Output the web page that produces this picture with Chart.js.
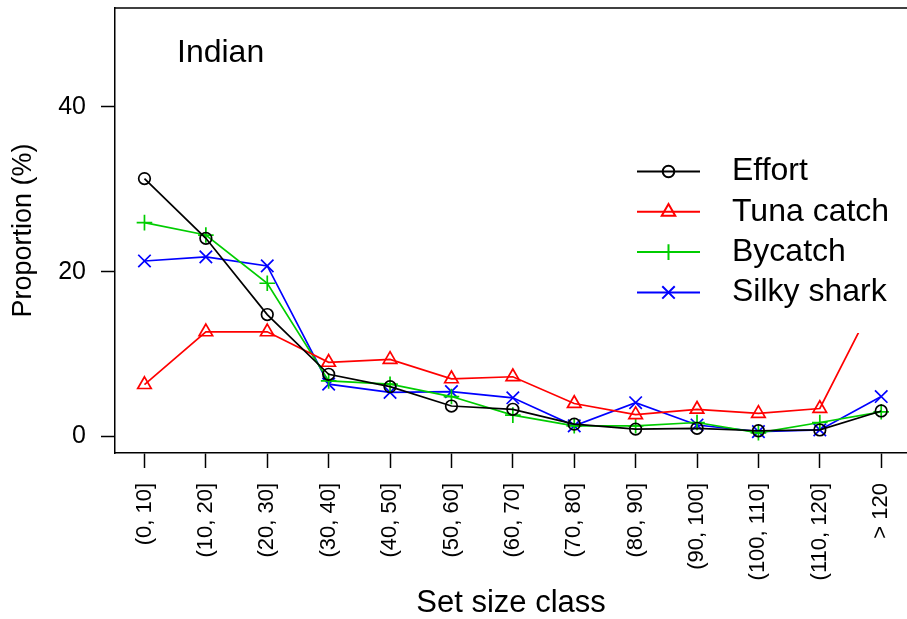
<!DOCTYPE html>
<html>
<head>
<meta charset="utf-8">
<script src="https://cdn.jsdelivr.net/npm/chart.js@4/dist/chart.umd.min.js"></script>
<style>
  html, body { margin: 0; padding: 0; background: #fff; overflow: hidden; }
  #wrap { width: 907px; height: 619px; position: relative; }
</style>
</head>
<body>
<div id="wrap"><canvas id="chart"></canvas></div>
<script>
  // size classes on the x axis
  var categories = ['(0, 10]', '(10, 20]', '(20, 30]', '(30, 40]', '(40, 50]', '(50, 60]',
    '(60, 70]', '(70, 80]', '(80, 90]', '(90, 100]', '(100, 110]', '(110, 120]', '> 120'];

  // proportions (%)
  var effort = [31.3, 24.05, 14.8, 7.55, 6.05, 3.7, 3.3, 1.5, 0.9, 1.0, 0.7, 0.8, 3.1];
  var tunaCatch = [6.3, 12.7, 12.7, 9.0, 9.35, 7.0, 7.25, 4.0, 2.65, 3.3, 2.8, 3.4, 18.0];
  var bycatch = [25.95, 24.45, 18.6, 6.75, 6.35, 4.85, 2.6, 1.3, 1.3, 1.7, 0.45, 1.7, 3.0];
  var silkyShark = [21.3, 21.8, 20.7, 6.35, 5.35, 5.45, 4.7, 1.3, 4.1, 1.4, 0.6, 0.8, 4.85];

  var yTicks = [0, 20, 40];
  var panelLabel = 'Indian';

  var FONT = "'Liberation Sans', Arial, Helvetica, sans-serif";

  function toPoints(values) {
    return values.map(function(v, i) { return {x: i, y: v}; });
  }

  function makeSet(label, values, color, style, radius) {
    return {
      label: label,
      data: toPoints(values),
      borderColor: color,
      backgroundColor: color,
      borderWidth: 1.7,
      pointStyle: style,
      pointRadius: radius,
      pointBorderColor: color,
      pointBackgroundColor: 'rgba(0,0,0,0)',
      pointBorderWidth: 1.7,
      tension: 0,
      fill: false
    };
  }

  // legend box (white background, like R's legend) and the panel label
  var overlayPlugin = {
    id: 'overlay',
    afterDatasetsDraw: function(chart) {
      var ctx = chart.ctx;
      var area = chart.chartArea;
      ctx.save();
      // top edge of the plot box
      ctx.strokeStyle = '#000';
      ctx.lineWidth = 1.5;
      ctx.beginPath();
      ctx.moveTo(area.left, area.top);
      ctx.lineTo(area.right, area.top);
      ctx.stroke();

      ctx.fillStyle = '#fff';
      ctx.fillRect(612, 131, area.right - 612, 333 - 131);

      var rowY = 171.5, step = 40.3;
      chart.data.datasets.forEach(function(ds, i) {
        var y = rowY + i * step;
        ctx.strokeStyle = ds.borderColor;
        ctx.lineWidth = 2;
        ctx.beginPath();
        ctx.moveTo(637, y);
        ctx.lineTo(700, y);
        ctx.stroke();
        ctx.fillStyle = 'rgba(0,0,0,0)';
        Chart.helpers.drawPoint(ctx, {
          pointStyle: ds.pointStyle,
          radius: ds.pointRadius,
          borderWidth: 2,
          rotation: 0
        }, 668.5, y);
        ctx.fillStyle = '#000';
        ctx.font = '32px ' + FONT;
        ctx.textAlign = 'left';
        ctx.textBaseline = 'middle';
        ctx.fillText(ds.label, 732, y);
      });

      ctx.fillStyle = '#000';
      ctx.font = '32px ' + FONT;
      ctx.textAlign = 'left';
      ctx.textBaseline = 'alphabetic';
      ctx.fillText(panelLabel, 177, 62);
      ctx.restore();
    }
  };

  new Chart(document.getElementById('chart'), {
    type: 'line',
    data: {
      datasets: [
        makeSet('Effort', effort, '#000000', 'circle', 5.8),
        makeSet('Tuna catch', tunaCatch, '#ff0000', 'triangle', 7.8),
        makeSet('Bycatch', bycatch, '#00cd00', 'cross', 7.8),
        makeSet('Silky shark', silkyShark, '#0000ff', 'crossRot', 8.8)
      ]
    },
    options: {
      responsive: true,
      maintainAspectRatio: false,
      animation: false,
      devicePixelRatio: 1,
      layout: { autoPadding: false, padding: { top: 8, left: 0, right: 0, bottom: 0 } },
      plugins: {
        legend: { display: false },
        tooltip: { enabled: false }
      },
      scales: {
        x: {
          type: 'linear',
          min: -0.48,
          max: 12.42,
          afterBuildTicks: function(scale) {
            scale.ticks = categories.map(function(c, i) { return {value: i}; });
          },
          afterFit: function(scale) {
            scale.height = 166;
            scale.paddingLeft = 0;
            scale.paddingRight = 0;
          },
          grid: {
            drawOnChartArea: false,
            drawTicks: true,
            tickLength: 15,
            tickColor: '#000',
            tickWidth: 1.5
          },
          border: { display: true, color: '#000', width: 1.5 },
          ticks: {
            autoSkip: false,
            minRotation: 90,
            maxRotation: 90,
            padding: 15,
            color: '#000',
            font: { family: FONT, size: 22 },
            callback: function(value) { return categories[value]; }
          },
          title: {
            display: true,
            text: 'Set size class',
            color: '#000',
            font: { family: FONT, size: 31, lineHeight: 1 },
            padding: { top: 0, bottom: 0 }
          }
        },
        y: {
          min: -2,
          max: 52,
          afterBuildTicks: function(scale) {
            scale.ticks = yTicks.map(function(v) { return {value: v}; });
          },
          afterFit: function(scale) {
            scale.width = 115;
            scale.paddingTop = 0;
            scale.paddingBottom = 0;
          },
          grid: {
            drawOnChartArea: false,
            drawTicks: true,
            tickLength: 14,
            tickColor: '#000',
            tickWidth: 1.5
          },
          border: { display: true, color: '#000', width: 1.5 },
          ticks: {
            padding: 15,
            color: '#000',
            font: { family: FONT, size: 25 }
          },
          title: {
            display: true,
            text: 'Proportion (%)',
            color: '#000',
            font: { family: FONT, size: 27, lineHeight: 1 },
            padding: { top: 10, bottom: 0 }
          }
        }
      }
    },
    plugins: [overlayPlugin]
  });
</script>
</body>
</html>
